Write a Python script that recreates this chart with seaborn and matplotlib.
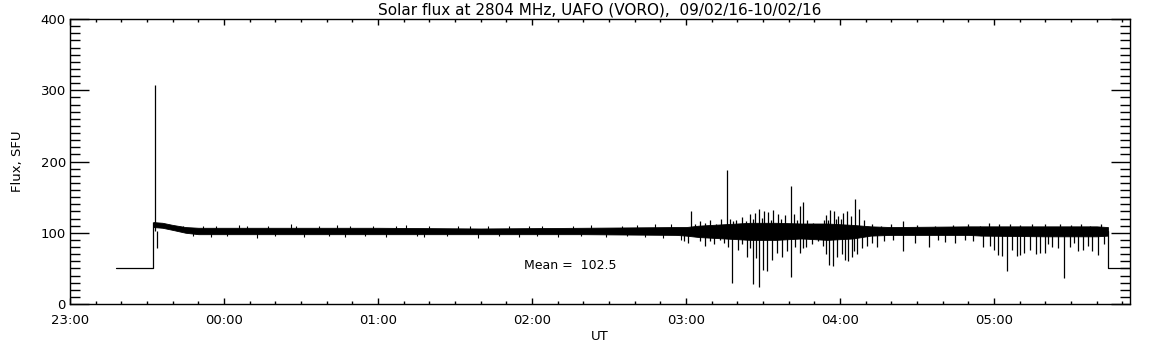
import matplotlib
matplotlib.use("Agg")
import matplotlib.pyplot as plt
import pandas as pd
import seaborn as sns
from matplotlib.ticker import MultipleLocator

# Time axis in minutes after 23:00 UT
hour_ticks = [0, 60, 120, 180, 240, 300, 360]
hour_labels = ["23:00", "00:00", "01:00", "02:00", "03:00", "04:00", "05:00"]
x_end = 413

# Flat 50 SFU segments before the start and after the end of the record
pre_t = [17.9, 32.5]
pre_flux = [50, 50]
post_t = [404.4, 404.4, 413]
post_flux = [102, 50, 50]

# Dense noise band: time, lower and upper envelope of the record
band_t = [32.5, 36, 40, 45, 50, 80, 120, 160, 200, 236, 240, 245, 255, 265,
          275, 285, 295, 305, 312, 320, 350, 355, 380, 400, 404.4]
band_lo = [108, 107, 104, 100, 98, 98, 98, 98, 98, 97, 96, 94, 92, 90,
           90, 92, 90, 92, 96, 97, 97, 96, 95, 95, 96]
band_hi = [115, 114, 111, 108, 107, 107, 107, 106, 107, 108, 108, 110, 112, 114,
           114, 113, 113, 111, 109, 108, 109, 109, 109, 109, 108]

# Small excursions that make the quiet band ragged
small_up_t = [44, 52, 57, 66, 69, 77, 86, 88, 97, 104, 109, 118, 127, 131,
              140, 151, 156, 163, 171, 179, 184, 196, 203, 215, 221, 228, 234]
small_up_flux = [110, 109, 110, 111, 109, 110, 112, 110, 109, 111, 110, 109, 110, 111,
                 109, 110, 109, 110, 109, 110, 109, 110, 111, 110, 111, 112, 113]
small_down_t = [48, 55, 61, 73, 80, 91, 101, 107, 115, 123, 135, 138, 147, 159,
                167, 175, 182, 190, 199, 209, 217, 224, 231, 238]
small_down_flux = [95, 94, 95, 93, 96, 94, 95, 94, 96, 94, 95, 94, 95, 93,
                   95, 94, 96, 94, 95, 94, 95, 94, 93, 90]

# Individual spikes above the band
up_t = [33.1, 241.8, 243.5, 245.5, 247.3, 249.4, 251.7, 253.5, 255.8, 257.1,
        258.3, 259.5, 261.8, 263.2, 264.9, 266.0, 266.9, 268.6, 269.5, 270.4,
        271.9, 273.0, 273.9, 275.8, 277.2, 278.6, 281.1, 282.1, 283.3, 284.4,
        285.7, 287.1, 289.5, 292.2, 293.6, 294.5, 295.3, 296.1, 297.6, 298.4,
        299.2, 300.3, 301.2, 302.7, 304.3, 306.0, 307.5, 309.3, 312.5, 316,
        320, 324.6, 330, 337.0, 344, 350, 354.5, 358, 362, 366.2, 370.1, 375,
        380, 385.7, 390, 394, 397.4, 401.7]
up_flux = [308, 130, 112, 116, 114, 118, 112, 120, 188, 120,
           116, 118, 122, 116, 126, 119, 128, 134, 121, 130,
           129, 118, 132, 126, 120, 125, 166, 126, 118, 137,
           143, 118, 114, 112, 118, 125, 118, 132, 130, 119,
           124, 120, 128, 130, 124, 147, 134, 118, 112, 110,
           112, 116, 111, 110, 111, 112, 110, 114, 112, 112, 111, 113,
           112, 113, 111, 112, 110, 113]

# Individual spikes below the band
down_t = [33.9, 239.2, 240.8, 245.5, 247.4, 249.4, 251.0, 253.2, 254.8, 256.5,
          258.0, 260.3, 262.0, 263.8, 265.0, 266.2, 267.3, 268.4, 270.0, 271.7,
          273.5, 275.4, 277.4, 279.3, 281.1, 282.5, 284.4, 285.5, 286.8, 289.1,
          291.4, 293.4, 294.6, 295.7, 297.1, 298.8, 300.8, 301.9, 303.3, 304.7,
          305.6, 306.6, 308.6, 310.5, 312.5, 314.3, 317.1, 320.5, 324.6, 329.2,
          334.8, 338, 340.9, 344.8, 348.7, 352, 355.8, 358.4, 360.2, 361.7,
          363.1, 365.2, 367.0, 368.8, 370.1, 371.7, 374.0, 376.3, 377.9, 379.9,
          381.2, 382.6, 384.9, 387.4, 389.6, 391.2, 392.7, 394.7, 396.6, 398.2,
          400.6, 402.8]
down_flux = [78, 88, 86, 88, 82, 88, 84, 90, 85, 80,
             30, 76, 84, 66, 78, 28, 64, 24, 48, 47,
             62, 72, 66, 75, 38, 80, 71, 78, 80, 84,
             88, 82, 70, 55, 53, 66, 70, 62, 61, 66,
             74, 70, 78, 82, 86, 80, 88, 90, 75, 86,
             80, 90, 87, 86, 90, 88, 80, 82, 76, 69,
             68, 47, 76, 67, 69, 72, 76, 70, 72, 71,
             84, 80, 78, 37, 80, 86, 74, 76, 82, 75,
             69, 84]

mean_flux = 102.5
baseline = 102

sns.set_style("ticks")
plt.rcParams["font.family"] = ["DejaVu Sans"]
plt.rcParams["text.color"] = "black"
plt.rcParams["axes.labelcolor"] = "black"
plt.rcParams["xtick.color"] = "black"
plt.rcParams["ytick.color"] = "black"

fig = plt.figure(figsize=(11.52, 3.45), dpi=100)
ax = fig.add_axes([0.0608, 0.1188, 0.9201, 0.8261])

pre = pd.DataFrame({"t": pre_t, "flux": pre_flux})
post = pd.DataFrame({"t": post_t, "flux": post_flux})
sns.lineplot(data=pre, x="t", y="flux", ax=ax, color="black", lw=0.9,
             sort=False, estimator=None)
sns.lineplot(data=post, x="t", y="flux", ax=ax, color="black", lw=0.9,
             sort=False, estimator=None)

# rising edge at the start of the record
ax.vlines(pre_t[-1], pre_flux[-1], band_hi[0], color="black", lw=0.9)

ax.fill_between(band_t, band_lo, band_hi, color="black", lw=0.6)
ax.vlines(small_up_t, baseline, small_up_flux, color="black", lw=0.8)
ax.vlines(small_down_t, baseline, small_down_flux, color="black", lw=0.8)
ax.vlines(up_t, baseline, up_flux, color="black", lw=0.9)
ax.vlines(down_t, baseline, down_flux, color="black", lw=0.9)

ax.text(177, 54.7, f"Mean =  {mean_flux}", fontsize=9, va="center", ha="left")

ax.set_xlim(0, x_end)
ax.set_ylim(0, 400)
ax.set_xticks(hour_ticks)
ax.set_xticklabels(hour_labels)
ax.xaxis.set_minor_locator(MultipleLocator(10))
ax.yaxis.set_major_locator(MultipleLocator(100))
ax.yaxis.set_minor_locator(MultipleLocator(10))

for side in ["top", "right", "left", "bottom"]:
    ax.spines[side].set_visible(True)
    ax.spines[side].set_color("black")
    ax.spines[side].set_linewidth(1)

ax.tick_params(axis="y", which="major", direction="in", left=True, right=True,
               length=14, width=1, labelsize=9.5, pad=3)
ax.tick_params(axis="y", which="minor", direction="in", left=True, right=True,
               length=7, width=1)
ax.tick_params(axis="x", which="major", direction="in", bottom=True, top=True,
               length=4, width=1, labelsize=9.5, pad=7)
ax.tick_params(axis="x", which="minor", direction="in", bottom=True, top=True,
               length=2, width=1)

ax.set_xlabel("UT", fontsize=9.5, labelpad=2)
ax.set_ylabel("Flux, SFU", fontsize=9.5, labelpad=12)
ax.set_title("Solar flux at 2804 MHz, UAFO (VORO),  09/02/16-10/02/16",
             fontsize=11, pad=3)

fig.savefig("out.png", dpi=100, facecolor="white")
